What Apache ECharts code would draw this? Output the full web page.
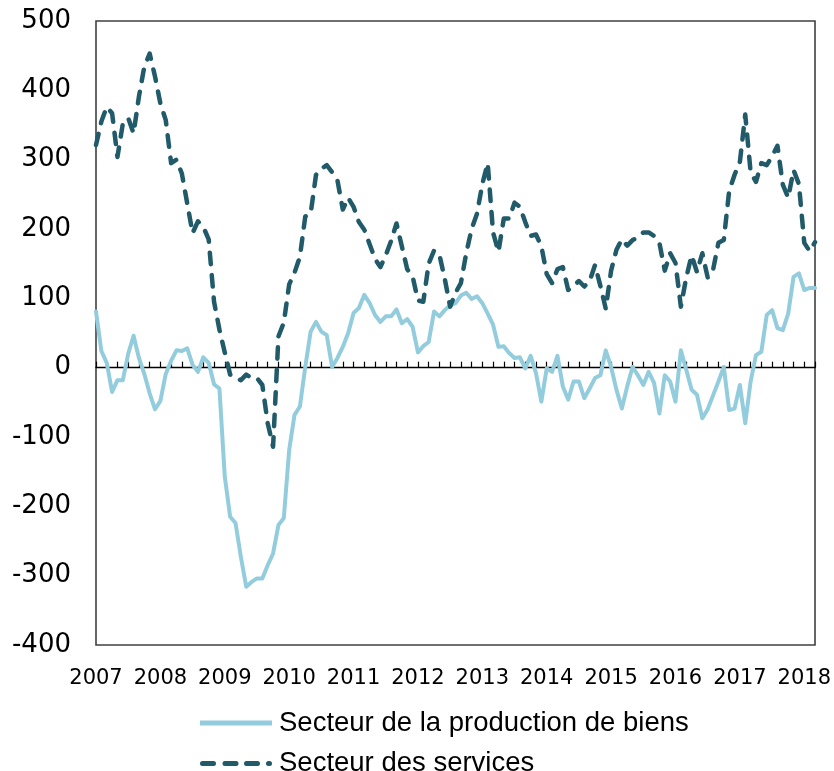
<!DOCTYPE html>
<html>
<head>
<meta charset="utf-8">
<script src="https://cdn.jsdelivr.net/npm/echarts@6/dist/echarts.min.js"></script>
<style>
  html, body { margin: 0; padding: 0; background: #ffffff; }
  #chart { width: 834px; height: 771px; }
</style>
</head>
<body>
<div id="chart"></div>
<script>
// Monthly categories: January 2007 to March 2018
const startYear = 2007;
const monthCount = 135;
const months = [];
for (let k = 0; k < monthCount; k++) {
  const y = startYear + Math.floor(k / 12);
  const m = (k % 12) + 1;
  months.push(y + '-' + (m < 10 ? '0' + m : m));
}

const yTicks = [-400, -300, -200, -100, 0, 100, 200, 300, 400, 500];

const seriesNames = ['Secteur de la production de biens', 'Secteur des services'];

const goods = [
  81, 24, 7, -35, -18, -18, 20, 46, 14, -9, -37, -60,
  -48, -9, 10, 25, 24, 28, 4, -6, 15, 7, -24, -30,
  -157, -215, -224, -273, -316, -309, -304, -304, -285, -268, -227, -217,
  -119, -68, -56, 1, 52, 66, 52, 47, 1, 14, 30, 50,
  79, 86, 105, 93, 76, 66, 74, 74, 84, 64, 70, 59,
  22, 31, 37, 81, 74, 83, 90, 93, 104, 108, 99, 103,
  93, 78, 62, 30, 31, 21, 14, 15, -1, 17, -8, -49,
  -1, -6, 17, -27, -46, -20, -20, -44, -30, -15, -11, 25,
  1, -32, -59, -27, 1, -11, -25, -6, -22, -66, -11, -20,
  -49, 25, -3, -32, -39, -73, -60, -40, -20, 1, -61, -59,
  -25, -80, -20, 18, 23, 76, 83, 57, 54, 78, 131, 136,
  112, 115, 115
];

const services = [
  321, 355, 376, 367, 304, 352, 360, 338, 391, 434, 453, 420,
  381, 357, 295, 300, 280, 237, 194, 211, 203, 185, 95, 55,
  22, -10, -15, -18, -10, -15, -15, -25, -80, -114, 45, 65,
  120, 137, 160, 218, 222, 278, 287, 292, 282, 270, 228, 245,
  232, 210, 199, 178, 157, 145, 162, 183, 208, 175, 142, 132,
  97, 95, 150, 169, 163, 128, 88, 108, 122, 165, 200, 222,
  265, 295, 195, 167, 215, 215, 238, 232, 210, 190, 192, 175,
  135, 122, 142, 145, 112, 118, 125, 117, 125, 148, 118, 85,
  140, 170, 185, 176, 184, 188, 195, 195, 190, 180, 140, 165,
  151, 88, 130, 162, 138, 165, 130, 141, 180, 184, 255, 278,
  297, 365, 282, 268, 295, 292, 305, 320, 264, 245, 285, 265,
  180, 168, 181
];

const colorGoods = '#93CDDD';
const colorServices = '#215A69';

const chart = echarts.init(document.getElementById('chart'), null, { renderer: 'canvas' });

const option = {
  animation: false,
  backgroundColor: '#ffffff',
  grid: {
    left: 96, top: 21, right: 18.5, bottom: 126,
    show: true, borderColor: '#404040', borderWidth: 1.6, backgroundColor: 'transparent'
  },
  legend: {
    orient: 'vertical',
    left: 200,
    top: 709,
    height: 90,
    padding: 0,
    itemWidth: 72,
    itemHeight: 5,
    itemGap: 12.5,
    textStyle: { fontFamily: 'Liberation Sans, Arial, sans-serif', fontSize: 27.5, color: '#000', padding: [0, 0, 0, 2] },
    itemStyle: { borderWidth: 0 },
    data: [
      { name: seriesNames[0], icon: 'path://M0,0H72V5H0Z' },
      { name: seriesNames[1], icon: 'path://M2.5,0H13.5A2.5,2.5,0,0,1,13.5,5H2.5A2.5,2.5,0,0,1,2.5,0Z M25,0H36A2.5,2.5,0,0,1,36,5H25A2.5,2.5,0,0,1,25,0Z M46.5,0H57.5A2.5,2.5,0,0,1,57.5,5H46.5A2.5,2.5,0,0,1,46.5,0Z M68.5,0H69.5A2.5,2.5,0,0,1,69.5,5H68.5A2.5,2.5,0,0,1,68.5,0Z' }
    ]
  },
  xAxis: [
    {
      type: 'category',
      data: months,
      boundaryGap: false,
      axisLine: { show: true, onZero: true, lineStyle: { color: '#000', width: 1.3 } },
      axisTick: { show: true, inside: true, interval: 1, length: 6, lineStyle: { color: '#000', width: 1.2 } },
      axisLabel: { show: false },
      splitLine: { show: false }
    },
    {
      type: 'category',
      data: months,
      boundaryGap: false,
      position: 'bottom',
      axisLine: { show: false, onZero: false },
      axisTick: { show: false },
      splitLine: { show: false },
      axisLabel: {
        show: true,
        interval: 11,
        margin: 23,
        color: '#000',
        fontFamily: 'DejaVu Sans, Verdana, sans-serif',
        fontSize: 21,
        formatter: function (v) { return v.slice(0, 4); }
      }
    }
  ],
  yAxis: {
    type: 'value',
    min: yTicks[0],
    max: yTicks[yTicks.length - 1],
    interval: 100,
    axisLine: { show: false },
    axisTick: { show: false },
    splitLine: { show: false },
    axisLabel: {
      color: '#000',
      fontFamily: 'DejaVu Sans, Verdana, sans-serif',
      fontSize: 26,
      margin: 25
    }
  },
  series: [
    {
      name: seriesNames[0],
      type: 'line',
      data: goods,
      xAxisIndex: 0,
      symbol: 'none',
      color: colorGoods,
      lineStyle: { color: colorGoods, width: 4, join: 'round', cap: 'round' },
      z: 3
    },
    {
      name: seriesNames[1],
      type: 'line',
      data: services,
      xAxisIndex: 0,
      symbol: 'none',
      color: colorServices,
      lineStyle: { color: colorServices, width: 4.5, type: [11.5, 11], cap: 'round', join: 'round' },
      z: 4
    }
  ]
};

chart.setOption(option);
</script>
</body>
</html>
